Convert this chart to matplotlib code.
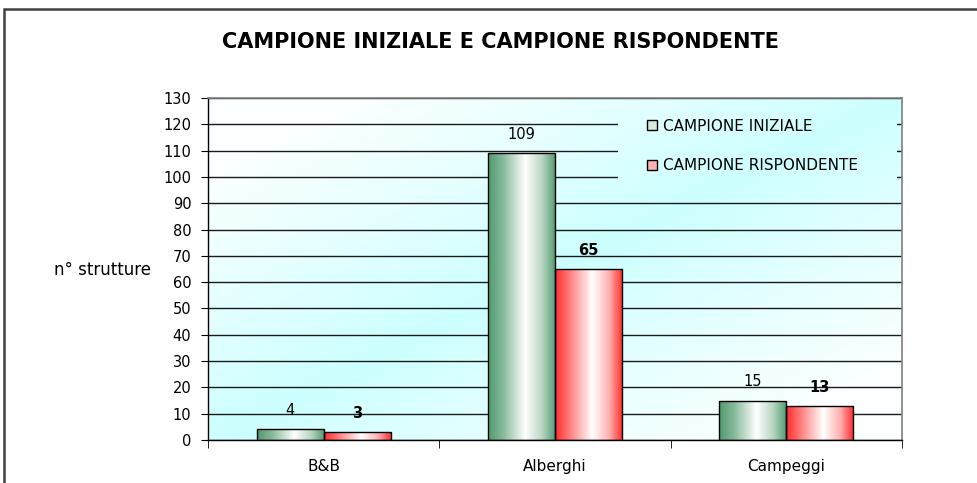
import numpy as np
import matplotlib
matplotlib.use("Agg")
import matplotlib.pyplot as plt
from matplotlib.patches import Rectangle, Patch
from matplotlib.colors import LinearSegmentedColormap

# ---- data ----
categories = ["B&B", "Alberghi", "Campeggi"]
campione_iniziale = [4, 109, 15]
campione_rispondente = [3, 65, 13]
series_names = ["CAMPIONE INIZIALE", "CAMPIONE RISPONDENTE"]
y_ticks = list(range(0, 131, 10))
title = "CAMPIONE INIZIALE E CAMPIONE RISPONDENTE"
y_label = "n° strutture"

W, H = 977, 483
fig = plt.figure(figsize=(W / 100, H / 100), dpi=100)
fig.patch.set_facecolor("white")

# plot area in pixels
L, R, T, B = 208, 902, 98, 440
ax = fig.add_axes([L / W, 1 - B / H, (R - L) / W, (B - T) / H])
ax.set_facecolor("none")

# background gradient (cyan along main diagonal, whiter toward TL/BR corners)
n = 300
u = np.linspace(0, 1, n)
v = np.linspace(1, 0, n)
U, V = np.meshgrid(u, v)
d = np.clip(np.abs(U - V) / 0.8, 0, 1) ** 0.9
cyan = np.array([0.80, 1.0, 1.0])
white = np.array([0.99, 1.0, 1.0])
img = cyan[None, None, :] + (white - cyan)[None, None, :] * d[..., None]
ax.imshow(img, extent=[0, 1, 0, 1], transform=ax.transAxes, aspect="auto",
          zorder=0, interpolation="bilinear")

x = np.arange(len(categories))
bw = 0.29

ax.set_xlim(-0.5, len(categories) - 0.5)
ax.set_ylim(0, 130)

# gridlines
ax.set_yticks(y_ticks)
ax.yaxis.grid(True, color="#1a1a1a", linewidth=1.0, zorder=1)
ax.set_axisbelow(True)

# legend-area overlay of gradient (hides gridlines behind the legend)
clip_rect = Rectangle((0.591, 0.735), 0.402, 0.26, transform=ax.transAxes,
                      facecolor="none", edgecolor="none")
ax.add_patch(clip_rect)
im2 = ax.imshow(img, extent=[0, 1, 0, 1], transform=ax.transAxes, aspect="auto",
                zorder=1.5, interpolation="bilinear")
im2.set_clip_path(clip_rect)

green_cmap = LinearSegmentedColormap.from_list(
    "g", [(0.0, "#4f9a6e"), (0.22, "#86b99a"), (0.55, "#ffffff"), (0.8, "#b7d5c2"), (1.0, "#4f9a6e")])
red_cmap = LinearSegmentedColormap.from_list(
    "r", [(0.0, "#ff2a2a"), (0.22, "#ff8080"), (0.55, "#ffffff"), (0.8, "#ffb0b0"), (1.0, "#ff2a2a")])

grad = np.linspace(0, 1, 256)[None, :]

def gradient_bars(xs, vals, cmap, bold):
    bars = ax.bar(xs, vals, width=bw, facecolor="none", edgecolor="black",
                  linewidth=1.0, zorder=3)
    for b, val in zip(bars, vals):
        x0, y0 = b.get_x(), b.get_y()
        w, h = b.get_width(), b.get_height()
        im = ax.imshow(grad, extent=[x0, x0 + w, y0, y0 + h], aspect="auto",
                       cmap=cmap, zorder=2.5, interpolation="bilinear")
        im.set_clip_path(b)
        ax.annotate(str(val), (x0 + w / 2, y0 + h), xytext=(0, 13.5),
                    textcoords="offset points", ha="center", va="center",
                    fontsize=10.5, fontweight="bold" if bold else "normal",
                    family="DejaVu Sans", color="black", zorder=4)
    return bars

gradient_bars(x - bw / 2, campione_iniziale, green_cmap, False)
gradient_bars(x + bw / 2, campione_rispondente, red_cmap, True)
ax.set_xlim(-0.5, len(categories) - 0.5)
ax.set_ylim(0, 130)

# axes styling
for s in ["top", "right"]:
    ax.spines[s].set_color("#808080")
    ax.spines[s].set_linewidth(1.2)
for s in ["left", "bottom"]:
    ax.spines[s].set_color("black")
    ax.spines[s].set_linewidth(1.0)
for s in ax.spines.values():
    s.set_zorder(5)

ax.set_xticks(x)
ax.set_xticklabels(categories, fontsize=11, family="DejaVu Sans")
ax.tick_params(axis="x", which="major", length=0, pad=14)
ax.set_xticks(np.arange(len(categories) + 1) - 0.5, minor=True)
ax.tick_params(axis="x", which="minor", length=6, direction="out", color="black")
ax.tick_params(axis="y", length=5, direction="out", color="black", labelsize=10.5, pad=7)
for lbl in ax.get_yticklabels():
    lbl.set_family("DejaVu Sans")

# legend
handles = [Patch(facecolor="#d6e9dc", edgecolor="black", linewidth=1.0),
           Patch(facecolor="#ffb4b4", edgecolor="black", linewidth=1.0)]
leg = ax.legend(handles, series_names, loc="upper left", bbox_to_anchor=(0.632, 0.94),
                frameon=False, borderaxespad=0, borderpad=0, handlelength=0.65,
                handleheight=0.65, handletextpad=0.45, labelspacing=1.62,
                prop={"family": "DejaVu Sans", "size": 11})
leg.set_zorder(6)

# labels
fig.text(102 / W, 1 - 270 / H, y_label, ha="center", va="center", fontsize=12,
         family="DejaVu Sans")
fig.text(500 / W, 1 - 42 / H, title, ha="center", va="center", fontsize=15,
         fontweight="bold", family="DejaVu Sans")

# outer chart frame
fig.patches.append(Rectangle((4 / W, -0.1), 1.2, 1 - 9 / H + 0.1, transform=fig.transFigure,
                             fill=False, edgecolor="#404040", linewidth=1.8))

fig.savefig("out.png", dpi=100)
